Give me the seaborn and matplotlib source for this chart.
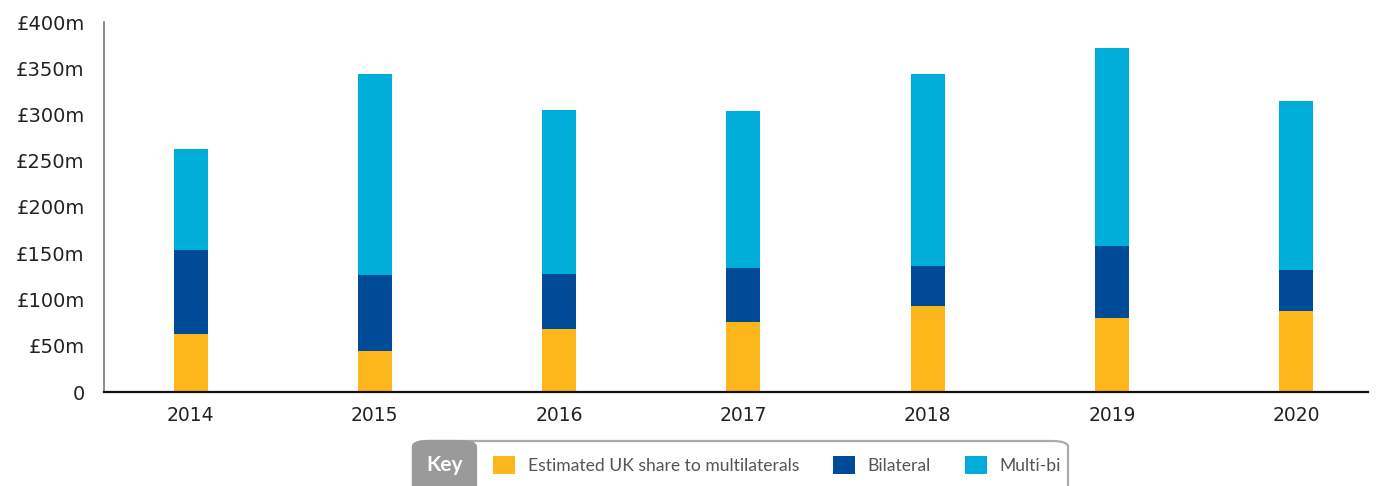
import matplotlib
matplotlib.use("Agg")
import matplotlib.pyplot as plt
from matplotlib.patches import Patch, FancyBboxPatch
import seaborn as sns
import pandas as pd

years = ["2014", "2015", "2016", "2017", "2018", "2019", "2020"]
uk_share = [63, 44, 68, 76, 93, 80, 88]
bilateral = [91, 82, 60, 58, 43, 78, 44]
multi_bi = [109, 218, 177, 170, 208, 214, 183]
series_names = ["Estimated UK share to multilaterals", "Bilateral", "Multi-bi"]
colors = ["#FDB71A", "#004B98", "#00AEDA"]
y_ticks = [0, 50, 100, 150, 200, 250, 300, 350, 400]
y_tick_labels = ["0", "£50m", "£100m", "£150m", "£200m", "£250m", "£300m", "£350m", "£400m"]

sns.set_theme(style="white")
plt.rcParams["font.family"] = ["Lato", "DejaVu Sans"]

df = pd.DataFrame({"year": years, "uk": uk_share, "bil": bilateral, "mb": multi_bi})
df["c1"] = df["uk"]
df["c2"] = df["uk"] + df["bil"]
df["c3"] = df["c2"] + df["mb"]

fig = plt.figure(figsize=(13.81, 4.86), dpi=100)
ax = fig.add_axes([104 / 1381, 1 - 392 / 486, (1368 - 104) / 1381, (392 - 22) / 486])

for col, c in zip(["c3", "c2", "c1"], [colors[2], colors[1], colors[0]]):
    sns.barplot(data=df, x="year", y=col, color=c, width=0.185, ax=ax,
                saturation=1, linewidth=0, errorbar=None)

ax.set_xlim(-0.47, 6.39)
ax.set_ylim(0, 400)
ax.set_yticks(y_ticks)
ax.set_yticklabels(y_tick_labels, family=["DejaVu Sans"])
ax.set_xticks(range(len(years)))
ax.set_xticklabels(years, family=["DejaVu Sans"])
ax.set_xlabel("")
ax.set_ylabel("")
ax.tick_params(axis="y", length=0, pad=14, labelsize=14, labelcolor="#222222")
ax.tick_params(axis="x", length=0, pad=10, labelsize=13.5, labelcolor="#222222")
for s in ["top", "right"]:
    ax.spines[s].set_visible(False)
ax.spines["left"].set_color("#777777")
ax.spines["left"].set_linewidth(1.2)
ax.spines["bottom"].set_color("#111111")
ax.spines["bottom"].set_linewidth(1.6)

# Key box
x0, x1 = 413 / 1381, 1068 / 1381
ytop = 1 - 441 / 486
box = FancyBboxPatch((x0, -0.05), x1 - x0, ytop + 0.05, transform=fig.transFigure,
                     boxstyle="round,pad=0,rounding_size=0.012", facecolor="white",
                     edgecolor="#aaaaaa", linewidth=1.6, clip_on=False)
fig.patches.append(box)
keyr = FancyBboxPatch((x0, -0.05), (476 - 413) / 1381, ytop + 0.05, transform=fig.transFigure,
                      boxstyle="round,pad=0,rounding_size=0.012", facecolor="#9a9a9a",
                      edgecolor="#9a9a9a", linewidth=1.6, clip_on=False)
fig.patches.append(keyr)
fig.text(445 / 1381, 1 - 465 / 486, "Key", color="white", fontsize=15, fontweight="bold",
         ha="center", va="center")

handles = [Patch(facecolor=c, edgecolor="none", label=n) for c, n in zip(colors, series_names)]
leg = fig.legend(handles=handles, loc="center left", bbox_to_anchor=(493 / 1381, 1 - 465 / 486),
                 ncol=3, frameon=False, fontsize=12.6, handlelength=1.26, handleheight=1.26,
                 handletextpad=0.72, columnspacing=1.95, labelcolor="#555555",
                 borderaxespad=0, borderpad=0)

fig.savefig("out.png", dpi=100)
